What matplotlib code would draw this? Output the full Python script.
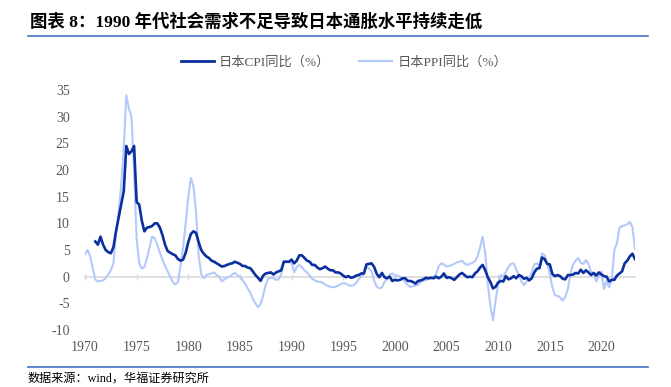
import numpy as np
import matplotlib
matplotlib.use("Agg")
import matplotlib.pyplot as plt
from matplotlib.lines import Line2D

# Quarterly values, one row per year (Q1..Q4), from 1970Q1 to 2023Q2
cpi_yoy = [
    np.nan, np.nan, np.nan, np.nan,   # 1970
    6.6, 6.0, 7.5, 6.0,               # 1971
    5.0, 4.6, 4.4, 5.5,
    8.5, 11.0, 13.5, 16.0,
    24.5, 23.0, 23.5, 24.5,
    14.0, 13.5, 10.5, 8.5,            # 1975
    9.2, 9.3, 9.5, 10.0,
    10.0, 9.2, 7.8, 6.0,
    4.8, 4.5, 4.2, 4.0,
    3.3, 3.0, 3.2, 4.5,
    6.5, 8.0, 8.5, 8.2,               # 1980
    6.5, 5.0, 4.3, 3.8,
    3.5, 3.0, 2.8, 2.5,
    2.2, 1.9, 2.0, 2.2,
    2.4, 2.5, 2.8, 2.6,
    2.4, 2.0, 2.0, 1.7,               # 1985
    1.6, 1.0, 0.3, -0.2,
    -0.8, 0.2, 0.6, 0.7,
    0.8, 0.4, 0.8, 1.0,
    1.2, 2.8, 2.8, 2.8,
    3.2, 2.5, 3.0, 4.0,               # 1990
    4.0, 3.5, 3.0, 2.8,
    2.2, 2.2, 1.7, 1.4,
    1.6, 1.9, 1.5, 1.2,
    1.2, 0.8, 0.8, 0.6,
    0.2, -0.1, 0.1, -0.2,             # 1995
    -0.1, 0.2, 0.3, 0.6,
    0.6, 2.3, 2.4, 2.5,
    1.8, 0.5, -0.1, 0.7,
    -0.1, -0.3, 0.0, -0.8,
    -0.6, -0.7, -0.6, -0.3,           # 2000
    -0.3, -0.8, -0.8, -1.0,
    -1.3, -0.8, -0.7, -0.5,
    -0.2, -0.3, -0.2, -0.3,
    0.0, -0.3, 0.0, 0.6,
    -0.2, -0.1, -0.3, -0.6,           # 2005
    -0.1, 0.4, 0.7, 0.3,
    -0.1, 0.0, -0.1, 0.6,
    1.0, 1.7, 2.2, 1.2,
    -0.1, -1.0, -2.2, -1.9,
    -1.1, -0.8, -0.9, 0.1,            # 2010
    -0.5, -0.3, 0.1, -0.3,
    0.3, 0.1, -0.4, -0.2,
    -0.7, -0.3, 0.8, 1.5,
    1.6, 3.6, 3.3, 2.4,
    2.3, 0.5, 0.1, 0.3,               # 2015
    0.1, -0.4, -0.5, 0.3,
    0.3, 0.4, 0.7, 0.6,
    1.3, 0.7, 1.2, 0.8,
    0.3, 0.7, 0.2, 0.8,
    0.4, 0.1, 0.0, -0.9,              # 2020
    -0.6, -0.6, 0.2, 0.6,
    1.0, 2.5, 3.0, 3.8,
    4.3, 3.3,                         # 2023
]

ppi_yoy = [
    4.2, 5.0, 3.8, 1.5,               # 1970
    -0.5, -0.9, -0.8, -0.7,
    -0.3, 0.4, 1.2, 2.5,
    8.0, 12.0, 17.0, 24.0,
    34.0, 31.5, 30.0, 20.0,
    7.0, 2.5, 1.5, 1.8,               # 1975
    3.5, 5.5, 7.5, 7.2,
    6.0, 4.5, 3.2, 2.0,
    1.0, 0.0, -1.0, -1.5,
    -1.0, 2.0, 5.5, 10.0,
    15.0, 18.5, 17.0, 12.0,           # 1980
    4.0, 0.5, -0.3, 0.3,
    0.5, 0.6, 0.8, 0.3,
    0.0, -0.9, -0.5, -0.2,
    0.0, 0.4, 0.7, 0.3,
    0.0, -0.6, -1.3, -2.2,            # 1985
    -3.0, -4.2, -5.0, -5.7,
    -5.2, -3.5, -1.5, -0.3,
    -0.2, -0.3, -0.6, -0.5,
    0.5, 2.8, 2.9, 2.7,
    2.6, 0.8, 1.8, 2.2,               # 1990
    1.8, 1.2, 0.8, 0.2,
    -0.4, -0.7, -0.9, -1.0,
    -1.1, -1.5, -1.7, -1.9,
    -2.0, -1.9, -1.7, -1.4,
    -1.2, -1.3, -1.6, -1.7,           # 1995
    -1.6, -1.2, -0.5, 0.0,
    0.5, 1.8, 1.5, 1.0,
    -0.8, -1.9, -2.2, -2.0,
    -1.0, -0.3, 0.4, 0.6,
    0.3, 0.2, 0.0, -0.5,              # 2000
    -1.0, -1.6, -1.9, -1.8,
    -1.7, -1.5, -1.0, -0.8,
    -0.6, -0.5, -0.3, 0.0,
    0.5, 2.0, 2.5, 2.3,
    1.9, 2.0, 2.2, 2.4,               # 2005
    2.7, 2.8, 3.0, 2.5,
    2.2, 2.4, 2.6, 2.9,
    3.8, 5.5, 7.5, 4.5,
    -1.5, -5.5, -8.2, -4.5,
    -1.5, 0.3, 0.0, 0.9,              # 2010
    1.8, 2.4, 2.5, 1.4,
    0.3, -0.9, -1.6, -0.9,
    -0.4, 0.8, 2.3, 2.5,
    2.0, 4.4, 4.0, 2.5,
    0.5, -2.0, -3.5, -3.6,            # 2015
    -3.9, -4.5, -3.8, -2.3,
    0.6, 2.3, 3.0, 3.5,
    2.6, 2.4, 3.1, 2.4,
    0.9, 0.6, -0.9, 0.1,
    1.0, -2.3, -0.8, -2.0,            # 2020
    -0.5, 5.0, 6.3, 9.2,
    9.5, 9.6, 9.8, 10.3,
    9.3, 5.2,                         # 2023
]

start_year = 1970
year_ticks = [1970, 1975, 1980, 1985, 1990, 1995, 2000, 2005, 2010, 2015, 2020]
y_ticks = [-10, -5, 0, 5, 10, 15, 20, 25, 30, 35]

title = "图表 8：1990 年代社会需求不足导致日本通胀水平持续走低"
source = "数据来源：wind，华福证券研究所"
cpi_label = "日本CPI同比（%）"
ppi_label = "日本PPI同比（%）"

CPI_COLOR = "#0a2f9e"
PPI_COLOR = "#b4c8fa"
RULE_COLOR = "#4472c4"
TEXT_GREY = "#595959"
FONTS = ["Liberation Serif", "Noto Sans CJK SC"]

plt.rcParams["font.family"] = FONTS
plt.rcParams["axes.unicode_minus"] = False

t = start_year + np.arange(len(ppi_yoy)) / 4.0
cpi = np.array(cpi_yoy, dtype=float)
ppi = np.array(ppi_yoy, dtype=float)

W, H = 671, 387
fig = plt.figure(figsize=(W / 100, H / 100), dpi=100)
ax = fig.add_axes([85 / W, 1 - 330 / H, (635 - 85) / W, 240 / H])

ax.plot(t, ppi, color=PPI_COLOR, lw=1.5, zorder=2)
ax.plot(t, cpi, color=CPI_COLOR, lw=1.9, zorder=3)

ax.set_xlim(start_year, t[-1])
ax.set_ylim(-10, 35)
ax.set_yticks(y_ticks)
ax.set_xticks(year_ticks)
for s in ax.spines.values():
    s.set_visible(False)
ax.tick_params(axis="both", length=0, labelsize=10, labelcolor=TEXT_GREY)
ax.tick_params(axis="y", pad=11)
ax.tick_params(axis="x", pad=8)

# zero line with small tick marks
zero = ax.secondary_xaxis(10 / 45)
zero.set_xticks(year_ticks)
zero.spines["bottom"].set_color("#d9d9d9")
zero.spines["bottom"].set_linewidth(1.2)
zero.tick_params(axis="x", direction="inout", length=4, width=1, color="#d9d9d9",
                 labelbottom=False, labeltop=False)
zero.set_zorder(1)

handles = [Line2D([], [], color=CPI_COLOR, lw=2.0),
           Line2D([], [], color=PPI_COLOR, lw=1.6)]
fig.legend(handles, [cpi_label, ppi_label], loc="center",
           bbox_to_anchor=(344 / W, 1 - 62 / H), ncol=2, frameon=False,
           fontsize=9.5, labelcolor=TEXT_GREY, handlelength=2.5,
           handletextpad=0.4, columnspacing=2.2)

fig.text(30 / W, 1 - 21.7 / H, title, fontsize=12.5, fontweight="bold",
         va="center", ha="left", color="black")
fig.add_artist(Line2D([28 / W, 648 / W], [1 - 35.7 / H] * 2, color=RULE_COLOR, lw=1.2))
fig.add_artist(Line2D([28 / W, 648 / W], [1 - 367 / H] * 2, color=RULE_COLOR, lw=1.2))
fig.text(28 / W, 1 - 379 / H, source, fontsize=8.7, va="center", ha="left", color="black")

fig.savefig("out.png", dpi=100)
